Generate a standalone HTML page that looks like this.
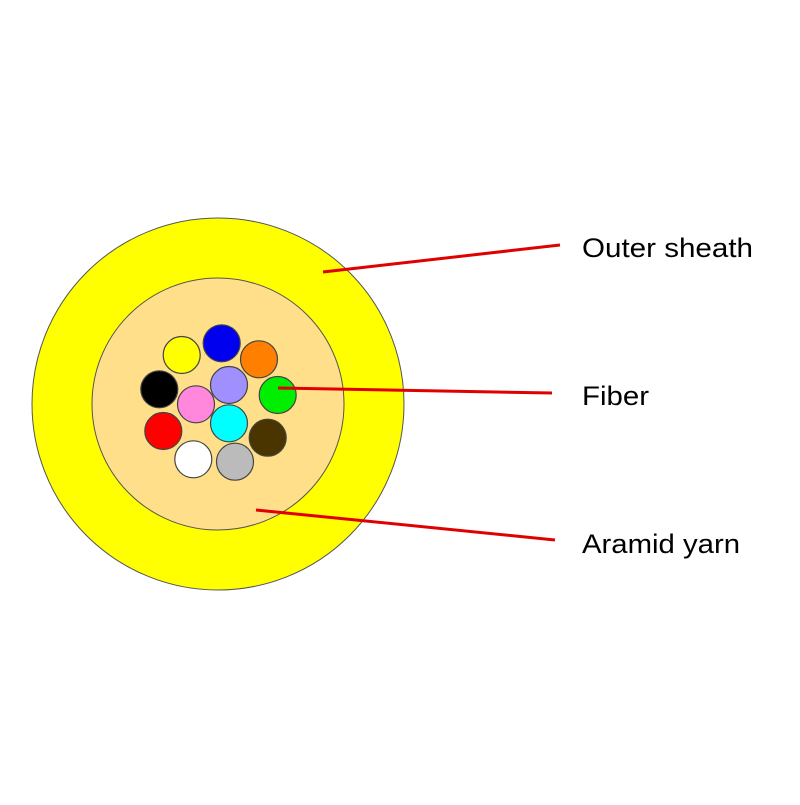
<!DOCTYPE html>
<html><head><style>body{margin:0;background:#fff}</style></head><body>
<svg width="800" height="800" xmlns="http://www.w3.org/2000/svg" font-family="Liberation Sans, sans-serif">
<rect width="800" height="800" fill="#fff"/>
<circle cx="218" cy="404" r="186" fill="#ffff00" stroke="#555" stroke-width="1"/>
<circle cx="218" cy="404" r="126" fill="#ffdf8a" stroke="#555" stroke-width="1"/>
<g stroke="#444" stroke-width="1.2">
<circle cx="181.7" cy="355" r="18.5" fill="#ffff00"/>
<circle cx="221.7" cy="343.3" r="18.5" fill="#0000ee"/>
<circle cx="259" cy="359.3" r="18.5" fill="#ff8000"/>
<circle cx="159.3" cy="389.3" r="18.5" fill="#000"/>
<circle cx="229" cy="385" r="18.5" fill="#9f8fff"/>
<circle cx="277.7" cy="395" r="18.5" fill="#00ee00"/>
<circle cx="196" cy="404.3" r="18.5" fill="#ff88dd"/>
<circle cx="163.3" cy="431" r="18.5" fill="#ff0000"/>
<circle cx="229" cy="423.3" r="18.5" fill="#00ffff"/>
<circle cx="267.7" cy="437.7" r="18.5" fill="#4a3500"/>
<circle cx="193.3" cy="459.3" r="18.5" fill="#fff"/>
<circle cx="235" cy="461.7" r="18.5" fill="#bbb"/>
</g>
<g stroke="#e00000" stroke-width="3">
<line x1="323" y1="272" x2="560" y2="245"/>
<line x1="278" y1="388" x2="552" y2="393"/>
<line x1="256" y1="510" x2="555" y2="540"/>
</g>
<g font-size="27" fill="#000">
<text x="582" y="257" textLength="171" lengthAdjust="spacingAndGlyphs">Outer sheath</text>
<text x="582" y="405" textLength="67" lengthAdjust="spacingAndGlyphs">Fiber</text>
<text x="582" y="553" textLength="158" lengthAdjust="spacingAndGlyphs">Aramid yarn</text>
</g>
</svg>
</body></html>
